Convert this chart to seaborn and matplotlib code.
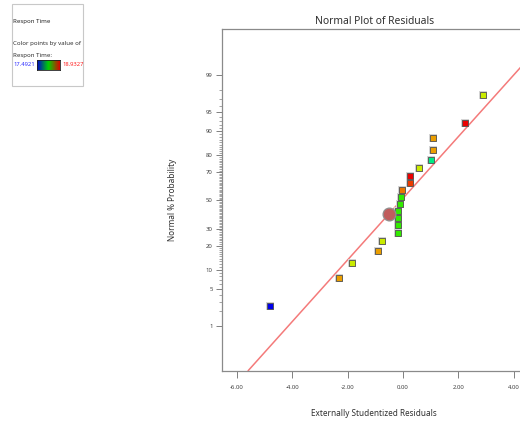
import numpy as np
import pandas as pd
import matplotlib
matplotlib.use("Agg")
import matplotlib.pyplot as plt
import matplotlib.colors as mcolors
from matplotlib.patches import Rectangle
import seaborn as sns
from statistics import NormalDist

# externally studentized residuals, sorted
resid = [-4.80, -2.30, -1.83, -0.89, -0.75, -0.17, -0.17, -0.17, -0.17, -0.10,
         -0.06, -0.03, 0.26, 0.26, 0.59, 1.02, 1.10, 1.10, 2.25, 2.90]
# response of each run, only used to colour the points
respon_time = [17.4921, 18.69, 18.52, 18.69, 18.52, 18.29, 18.29, 18.29, 18.29, 18.29,
               18.29, 18.75, 18.84, 18.9327, 18.52, 18.01, 18.69, 18.69, 18.93, 18.52]
resp_min, resp_max = 17.4921, 18.9327

# reference line (centre / spread) and the highlighted point on it
line_mean = -0.07
line_sd = 1.75
marked_resid = -0.50

prob_major = [1, 5, 10, 20, 30, 50, 70, 80, 90, 95, 99]
prob_minor = [p for p in range(1, 100) if p not in prob_major]
x_ticks = [-6, -4, -2, 0, 2, 4]

sns.set_style("white")
plt.rcParams['font.family'] = ['Noto Sans', 'DejaVu Sans']

# blue -> green -> red, going round the hue wheel
hues = np.linspace(240 / 360, 0, 256)
hsv = np.stack([hues, np.ones(256), np.full(256, 0.92)], axis=1)
cmap = mcolors.ListedColormap(mcolors.hsv_to_rgb(hsv))
# the key bar itself looks like a plain rgb blend
key_cmap = mcolors.LinearSegmentedColormap.from_list('key', ['#0000d0', '#00d000', '#e00000'])

nd = NormalDist()
df = pd.DataFrame({'resid': resid, 'resp': respon_time})
df['z'] = [nd.inv_cdf((i + 0.5) / len(df)) for i in range(len(df))]

W, H = 520, 421
fig = plt.figure(figsize=(W / 100, H / 100), dpi=100)
ax = fig.add_axes([221.7 / W, 1 - 370.7 / H, 305 / W, 341.4 / H])

ax.axline((line_mean, 0), slope=1 / line_sd, color='#f47a7a', lw=1.1, zorder=1)

# faint halo then the coloured squares
ax.scatter(df['resid'], df['z'], marker='s', s=32, color='#d4d4d4', lw=0, zorder=2)
sns.scatterplot(data=df, x='resid', y='z', hue='resp', palette=cmap,
                hue_norm=(resp_min, resp_max), marker='s', s=19,
                edgecolor='#505050', linewidth=0.6, legend=False, ax=ax, zorder=3)

mz = (marked_resid - line_mean) / line_sd
ax.scatter([marked_resid], [mz], s=85, color='#c05c5c', edgecolor='#909090', lw=0.9, zorder=4)

ax.set_xlim(-6.546, 4.47)
ax.set_ylim(-3.155, 3.173)
ax.set_xticks(x_ticks)
ax.set_xticklabels(['{:.2f}'.format(v) for v in x_ticks])
ax.set_yticks([nd.inv_cdf(p / 100) for p in prob_major])
ax.set_yticklabels([str(p) for p in prob_major])
ax.set_yticks([nd.inv_cdf(p / 100) for p in prob_minor], minor=True)

ax.tick_params(axis='both', which='major', direction='out', length=4.5, width=0.7,
               color='#808080', labelsize=4.3, labelcolor='#404040', pad=2)
ax.tick_params(axis='y', which='minor', direction='out', length=2, width=0.5,
               color='#808080', left=True)
ax.tick_params(axis='x', which='major', length=5, pad=5)
ax.tick_params(left=True, bottom=True)

for s in ax.spines.values():
    s.set_color('#8a8a8a')
    s.set_linewidth(0.9)

ax.set_title('Normal Plot of Residuals', fontsize=7.4, color='#303030', pad=4)
ax.set_xlabel('Externally Studentized Residuals', fontsize=5.9, color='#303030', labelpad=14)
ax.set_ylabel('Normal % Probability', fontsize=5.9, color='#303030', labelpad=21)

# colour key in the top left corner
fig.patches.append(Rectangle((12 / W, 1 - 86 / H), 71 / W, 82 / H, transform=fig.transFigure,
                             fill=False, edgecolor='#c8c8c8', lw=0.8))
fig.text(13 / W, 1 - 22 / H, 'Respon Time', fontsize=4.4, fontweight='bold', va='center')
fig.text(13 / W, 1 - 43 / H, 'Color points by value of', fontsize=4.4, va='center', color='#303030')
fig.text(13 / W, 1 - 55 / H, 'Respon Time:', fontsize=4.4, va='center', color='#303030')
fig.text(13 / W, 1 - 65 / H, '{:.4f}'.format(resp_min), fontsize=4.2, va='center', color='#3030ff')
fig.text(62 / W, 1 - 65 / H, '{:.4f}'.format(resp_max), fontsize=4.2, va='center', color='#ff2020')
cax = fig.add_axes([37 / W, 1 - 70 / H, 23 / W, 10 / H])
cax.imshow(np.linspace(0, 1, 256)[None, :], aspect='auto', cmap=key_cmap)
cax.set_xticks([])
cax.set_yticks([])
for s in cax.spines.values():
    s.set_color('#202020')
    s.set_linewidth(0.6)

fig.savefig('out.png', dpi=100)
